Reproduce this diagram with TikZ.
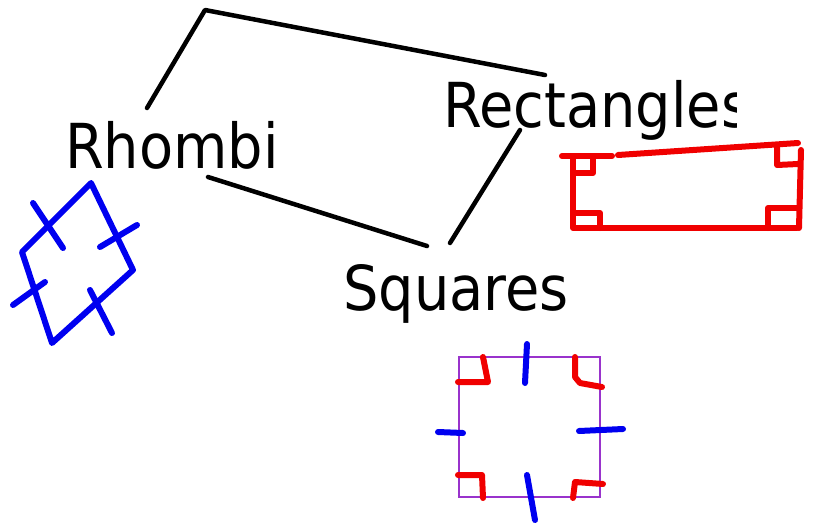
\documentclass[tikz,border=0pt]{standalone}
\usepackage{fontspec}
\setmainfont{DejaVu Sans}
\definecolor{inkblue}{RGB}{0,0,240}
\definecolor{inkred}{RGB}{240,0,0}
\definecolor{sqpurple}{RGB}{153,51,204}
\tikzset{
  label text/.style={inner sep=0pt, font=\fontsize{62}{74}\selectfont},
  connector/.style={line width=4.5pt, black, line cap=round, line join=round},
  blueink/.style={line width=6pt, inkblue, line cap=round, line join=round},
  redink/.style={line width=6pt, inkred, line cap=round, line join=round},
  sqedge/.style={line width=2pt, sqpurple}
}
\begin{document}
\begin{tikzpicture}[x=1pt, y=-1pt]
\useasboundingbox (0,0) rectangle (815,523);
% labels
\node[label text, anchor=base west] (rh) at (65,168) {\scalebox{0.9}[1]{Rhombi}};
\begin{scope}
\clip (0,0) rectangle (736,523);
\node[label text, anchor=base west] (re) at (443,127) {\scalebox{0.9}[1]{Rectangles}};
\end{scope}
\node[label text, anchor=base west] (sq) at (343,310) {\scalebox{0.9}[1]{Squares}};
% connector end points
\coordinate (rhtop) at (147,108);
\coordinate (apex) at (205,10);
\coordinate (retop) at (545,75);
\coordinate (rhbot) at (208,177);
\coordinate (sqleft) at (427,246);
\coordinate (rebot) at (520,130);
\coordinate (sqright) at (450,243);
\draw[connector] (rhtop) -- (apex) -- (retop);
\draw[connector] (rhbot) -- (sqleft);
\draw[connector] (rebot) -- (sqright);
% blue rhombus
\draw[blueink] (91,183) -- (133,270) -- (52,343) -- (22,252) -- cycle;
\draw[blueink] (33,203) -- (63,248);
\draw[blueink] (100,247) -- (137,225);
\draw[blueink] (13,305) -- (45,282);
\draw[blueink] (90,290) -- (112,333);
% red rectangle
\draw[redink] (562,156) -- (612,156);
\draw[redink] (618,155) -- (798,143);
\draw[redink] (573,157) -- (573,228) -- (797,228);
\draw[redink] (801,150) -- (799,228);
\draw[redink] (575,173) -- (593,173) -- (593,157);
\draw[redink] (575,213) -- (600,213) -- (600,228);
\draw[redink] (777,145) -- (777,165) -- (798,164);
\draw[redink] (768,228) -- (768,208) -- (797,208);
% purple square
\draw[sqedge] (459,357) rectangle (600,497);
\draw[redink] (483,357) -- (488,382) -- (458,382);
\draw[redink] (575,357) -- (575,377) -- (580,383) -- (602,387);
\draw[redink] (458,475) -- (482,475) -- (483,498);
\draw[redink] (603,484) -- (575,482) -- (573,498);
\draw[blueink] (527,344) -- (525,383);
\draw[blueink] (438,432) -- (463,433);
\draw[blueink] (579,431) -- (623,429);
\draw[blueink] (527,475) -- (535,520);
\end{tikzpicture}
\end{document}
